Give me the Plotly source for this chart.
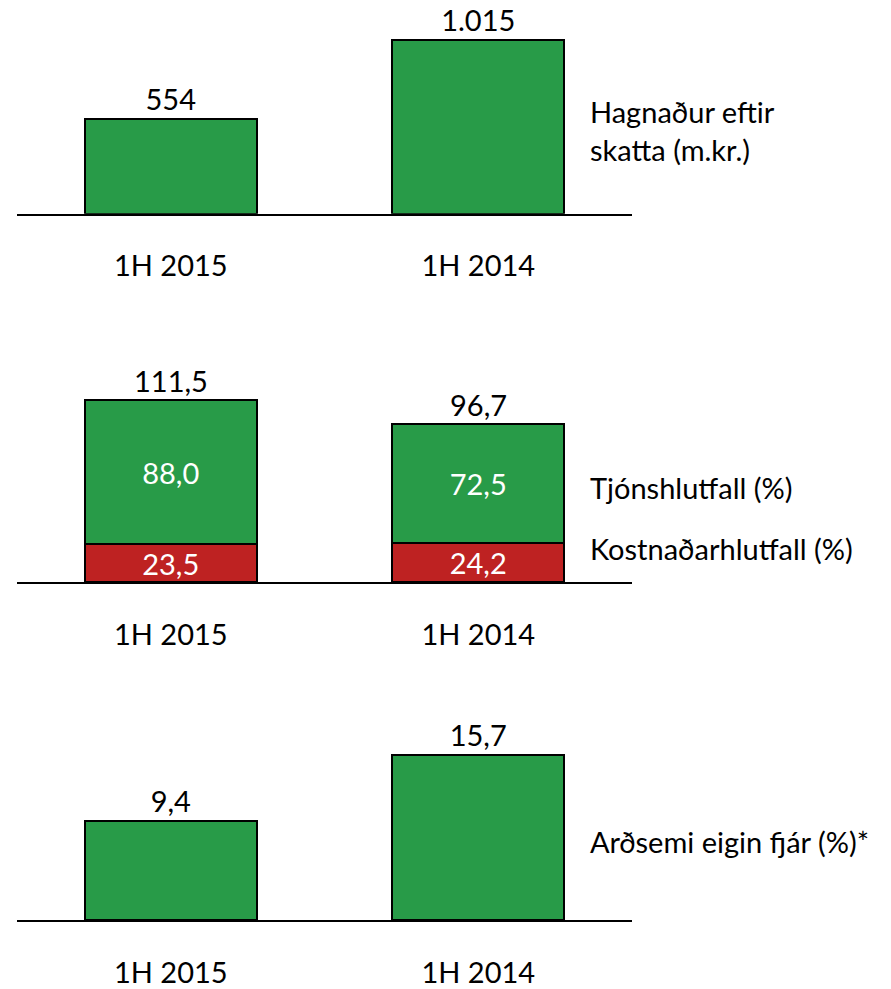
import plotly.graph_objects as go

categories = ["1H 2015", "1H 2014"]
profit = [554, 1015]                 # Hagnaður eftir skatta (m.kr.)
claims_ratio = [88.0, 72.5]          # Tjónshlutfall (%)
cost_ratio = [23.5, 24.2]            # Kostnaðarhlutfall (%)
roe = [9.4, 15.7]                    # Arðsemi eigin fjár (%)*

GREEN = "#289B48"
RED = "#BE2222"
FONT = "Lato"
FS = 29

W, H = 891, 989
def py(px):
    return 1 - px / H

fig = go.Figure()
bar_line = dict(color="black", width=2)
wid = 0.56

fig.add_trace(go.Bar(x=categories, y=profit, marker=dict(color=GREEN, line=bar_line),
                     width=wid, texttemplate="%{y:,.0f}", textposition="outside",
                     textfont=dict(color="black", size=FS), cliponaxis=False,
                     xaxis="x", yaxis="y"))
fig.add_trace(go.Bar(x=categories, y=cost_ratio, marker=dict(color=RED, line=bar_line),
                     width=wid, texttemplate="%{y:.1f}", textposition="inside",
                     insidetextanchor="middle",
                     textfont=dict(color="white", size=FS),
                     xaxis="x2", yaxis="y2"))
fig.add_trace(go.Bar(x=categories, y=claims_ratio, marker=dict(color=GREEN, line=bar_line),
                     width=wid, texttemplate="%{y:.1f}", textposition="inside",
                     insidetextanchor="middle",
                     textfont=dict(color="white", size=FS),
                     xaxis="x2", yaxis="y2"))
fig.add_trace(go.Bar(x=categories, y=roe, marker=dict(color=GREEN, line=bar_line),
                     width=wid, texttemplate="%{y:.1f}", textposition="outside",
                     textfont=dict(color="black", size=FS), cliponaxis=False,
                     xaxis="x3", yaxis="y3"))

totals = [a + b for a, b in zip(claims_ratio, cost_ratio)]
for c, t in zip(categories, totals):
    fig.add_annotation(x=c, y=t, xref="x2", yref="y2", text=f"{t:.1f}".replace(".", ","),
                       showarrow=False, yanchor="bottom", yshift=0,
                       font=dict(size=FS, color="black", family=FONT))

xdom = [17 / W, 632 / W]
xax = dict(domain=xdom, range=[-0.5, 1.5], showline=True, linecolor="black", linewidth=2,
           ticks="", showgrid=False, zeroline=False, ticklabelstandoff=26,
           tickfont=dict(size=FS, color="black", family=FONT), fixedrange=True)
yax = dict(visible=False, showgrid=False, zeroline=False, fixedrange=True)

fig.update_layout(
    width=W, height=H, margin=dict(l=0, r=0, t=0, b=0),
    paper_bgcolor="white", plot_bgcolor="white",
    barmode="stack", showlegend=False, separators=",.",
    font=dict(family=FONT, size=FS, color="black"),
    uniformtext=dict(minsize=FS, mode="show"),
    xaxis=dict(xax, anchor="y"),
    xaxis2=dict(xax, anchor="y2"),
    xaxis3=dict(xax, anchor="y3"),
    yaxis=dict(yax, domain=[py(215), py(20)], range=[0, 1131], anchor="x"),
    yaxis2=dict(yax, domain=[py(586), py(360)], range=[0, 137.4], anchor="x2"),
    yaxis3=dict(yax, domain=[py(926), py(700)], range=[0, 21.3], anchor="x3"),
)

lx = 588 / W
side = [("Hagnaður eftir<br>skatta (m.kr.)", 131),
        ("Tjónshlutfall (%)", 490),
        ("Kostnaðarhlutfall (%)", 552),
        ("Arðsemi eigin fjár (%)*", 847)]
for txt, ypx in side:
    fig.add_annotation(x=lx, y=py(ypx), xref="paper", yref="paper", text=txt,
                       showarrow=False, xanchor="left", yanchor="middle", align="left",
                       font=dict(size=FS, color="black", family=FONT))

fig.write_html(
    "out.html",
    config={"displayModeBar": False, "responsive": False},
    post_script=(
        "document.documentElement.style.margin='0';"
        "document.documentElement.style.overflow='hidden';"
        "document.body.style.margin='0';"
        "document.body.style.padding='0';"
        "document.body.style.overflow='hidden';"
    ),
)
